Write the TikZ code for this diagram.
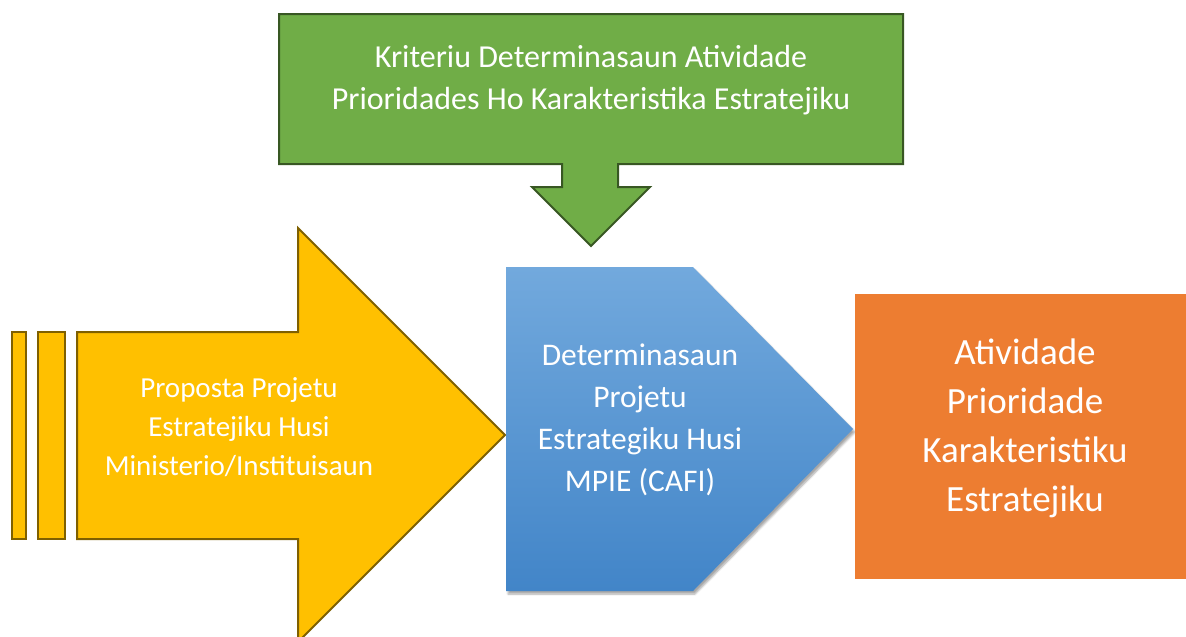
\documentclass[tikz,border=0pt]{standalone}
\usepackage{fontspec}
\setmainfont{Carlito}
\usetikzlibrary{shadows.blur}
\definecolor{grfill}{HTML}{70AD47}
\definecolor{grline}{HTML}{385723}
\definecolor{yefill}{HTML}{FFC000}
\definecolor{yeline}{HTML}{7F6000}
\definecolor{bltop}{HTML}{72A9DD}
\definecolor{blbot}{HTML}{4285C8}
\definecolor{orfill}{HTML}{ED7D31}
\begin{document}
\begin{tikzpicture}[x=1pt,y=-1pt,
  lbl/.style={text=white,align=center,inner sep=0pt},
  greenshape/.style={fill=grfill,draw=grline,line width=2pt,line join=miter},
  yellowshape/.style={fill=yefill,draw=yeline,line width=2pt,line join=miter},
  blueshape/.style={top color=bltop,bottom color=blbot,draw=none,
     blur shadow={shadow xshift=2pt,shadow yshift=-3pt,shadow blur steps=6,shadow opacity=35}},
  orangeshape/.style={fill=orfill,draw=none}]
\useasboundingbox (0,0) rectangle (1186,637);
\clip (0,0) rectangle (1186,637);
% green down-arrow callout
\draw[greenshape] (279,14) -- (903,14) -- (903,164) -- (618,164) -- (618,187) -- (650,187)
  -- (591,246) -- (532,187) -- (562,187) -- (562,164) -- (279,164) -- cycle;
\node[lbl,font=\fontsize{32}{42}\selectfont] (green) at (591,80)
  {Kriteriu Determinasaun Atividade\\Prioridades Ho Karakteristika Estratejiku};
% yellow striped arrow
\draw[yellowshape] (12,332) rectangle (26,539);
\draw[yellowshape] (38,332) rectangle (65,539);
\draw[yellowshape] (77,332) -- (298,332) -- (298,228) -- (505,435) -- (298,642) -- (298,539) -- (77,539) -- cycle;
\node[lbl,font=\fontsize{29}{39}\selectfont] (yellow) at (239,427)
  {Proposta Projetu\\Estratejiku Husi\\Ministerio/Instituisaun};
% blue pentagon
\path[blueshape] (506,267) -- (693,267) -- (853,429) -- (693,591) -- (506,591) -- cycle;
\node[lbl,font=\fontsize{31.5}{42}\selectfont] (blue) at (640,420)
  {Determinasaun\\Projetu\\Estrategiku Husi\\MPIE (CAFI)};
% orange box
\fill[orangeshape] (855,294) rectangle (1186,579);
\node[lbl,font=\fontsize{37}{49}\selectfont] (orange) at (1025,428)
  {Atividade\\Prioridade\\Karakteristiku\\Estratejiku};
\end{tikzpicture}
\end{document}
